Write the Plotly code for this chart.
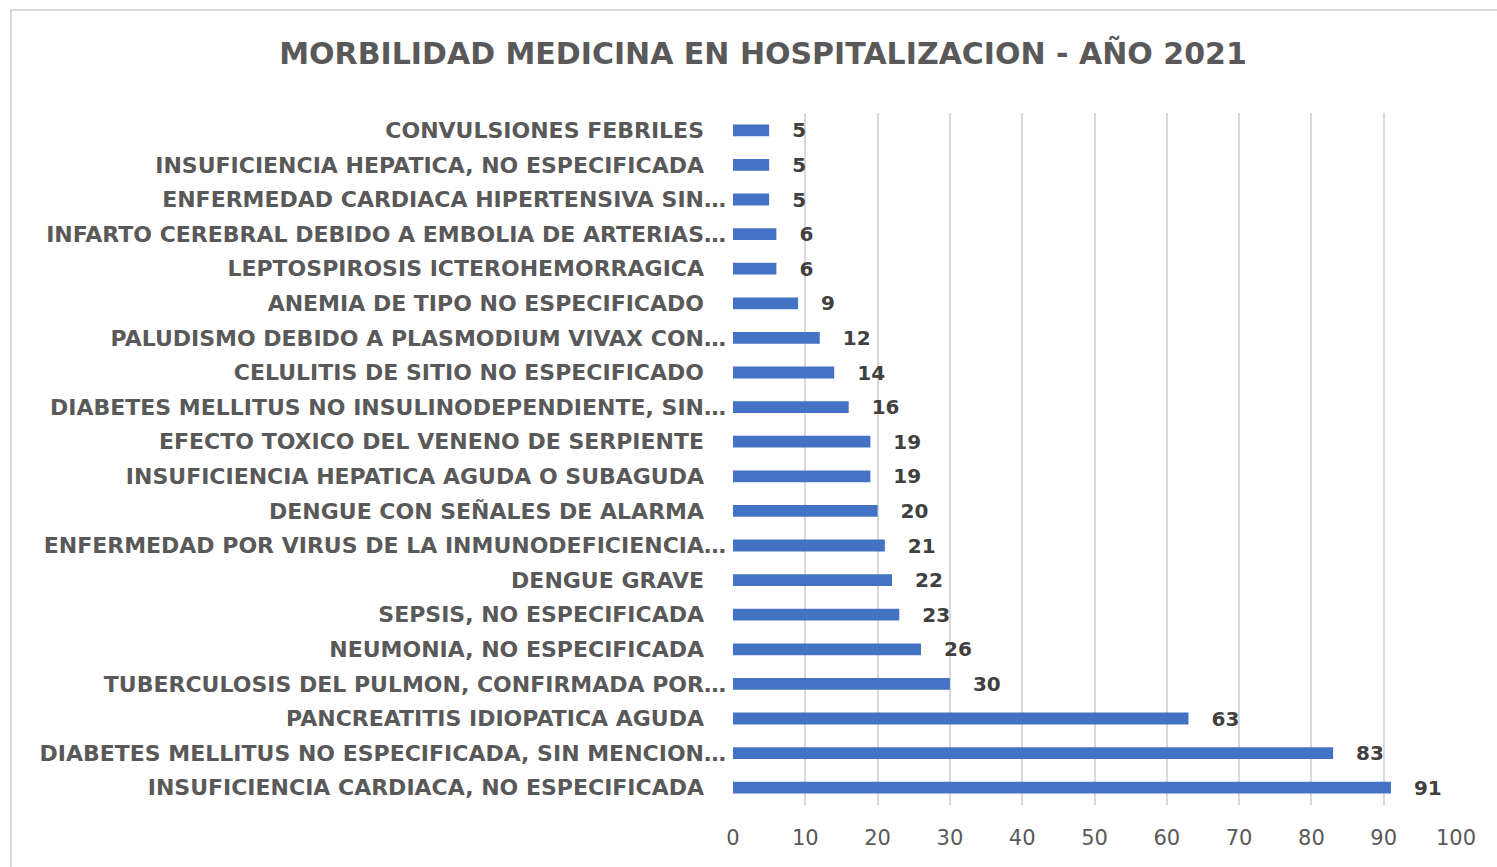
import plotly.graph_objects as go

# Diagnoses, listed top to bottom as shown on the chart
categories = [
    "CONVULSIONES FEBRILES",
    "INSUFICIENCIA HEPATICA, NO ESPECIFICADA",
    "ENFERMEDAD CARDIACA HIPERTENSIVA SIN…",
    "INFARTO CEREBRAL DEBIDO A EMBOLIA DE ARTERIAS…",
    "LEPTOSPIROSIS ICTEROHEMORRAGICA",
    "ANEMIA DE TIPO NO ESPECIFICADO",
    "PALUDISMO DEBIDO A PLASMODIUM VIVAX CON…",
    "CELULITIS DE SITIO NO ESPECIFICADO",
    "DIABETES MELLITUS NO INSULINODEPENDIENTE, SIN…",
    "EFECTO TOXICO DEL VENENO DE SERPIENTE",
    "INSUFICIENCIA HEPATICA AGUDA O SUBAGUDA",
    "DENGUE CON SEÑALES DE ALARMA",
    "ENFERMEDAD POR VIRUS DE LA INMUNODEFICIENCIA…",
    "DENGUE GRAVE",
    "SEPSIS, NO ESPECIFICADA",
    "NEUMONIA, NO ESPECIFICADA",
    "TUBERCULOSIS DEL PULMON, CONFIRMADA POR…",
    "PANCREATITIS IDIOPATICA AGUDA",
    "DIABETES MELLITUS NO ESPECIFICADA, SIN MENCION…",
    "INSUFICIENCIA CARDIACA, NO ESPECIFICADA",
]
cases = [5, 5, 5, 6, 6, 9, 12, 14, 16, 19, 19, 20, 21, 22, 23, 26, 30, 63, 83, 91]
x_ticks = [0, 10, 20, 30, 40, 50, 60, 70, 80, 90, 100]
title_text = "MORBILIDAD MEDICINA EN HOSPITALIZACION - AÑO 2021"

BLUE = "#4472C4"
TEXT = "#595959"
GRID = "#D9D9D9"
FONT = "DejaVu Sans"

# untruncated labels are padded so that the ellipsis of long ones hangs past them
tick_text = [c if c.endswith("…") else c + "\u2003" for c in categories]

fig = go.Figure(
    go.Bar(
        x=cases,
        y=categories,
        orientation="h",
        marker=dict(color=BLUE, line=dict(width=0)),
        texttemplate="\u2003%{x}",
        textposition="outside",
        constraintext="none",
        cliponaxis=False,
        textfont=dict(family=FONT, size=20, color="#404040", weight="bold"),
        hoverinfo="skip",
    )
)

fig.update_layout(
    width=1497,
    height=867,
    margin=dict(l=733, r=41, t=113, b=62),
    paper_bgcolor="white",
    plot_bgcolor="white",
    bargap=0.66,
    showlegend=False,
    title=dict(
        text=title_text,
        x=763 / 1497,
        xanchor="center",
        y=1 - 53 / 867,
        yanchor="middle",
        yref="container",
        font=dict(family=FONT, size=30, color=TEXT, weight="bold"),
    ),
    xaxis=dict(
        range=[0, 100],
        tickvals=x_ticks,
        showgrid=True,
        gridcolor=GRID,
        gridwidth=2,
        zeroline=False,
        showline=False,
        ticks="",
        ticklabelstandoff=18,
        tickfont=dict(family=FONT, size=21, color=TEXT),
    ),
    yaxis=dict(
        autorange="reversed",
        tickvals=categories,
        ticktext=tick_text,
        showgrid=False,
        zeroline=False,
        showline=False,
        ticks="",
        ticklabelstandoff=6,
        tickfont=dict(family=FONT, size=22, color=TEXT, weight="bold"),
    ),
    shapes=[
        dict(
            type="rect",
            xref="paper",
            yref="paper",
            x0=-722 / 723,
            x1=1.2,
            y0=-0.2,
            y1=1 + 103 / 692,
            line=dict(color=GRID, width=2),
            fillcolor="rgba(0,0,0,0)",
            layer="below",
        )
    ],
)

fig.write_html("out.html")
